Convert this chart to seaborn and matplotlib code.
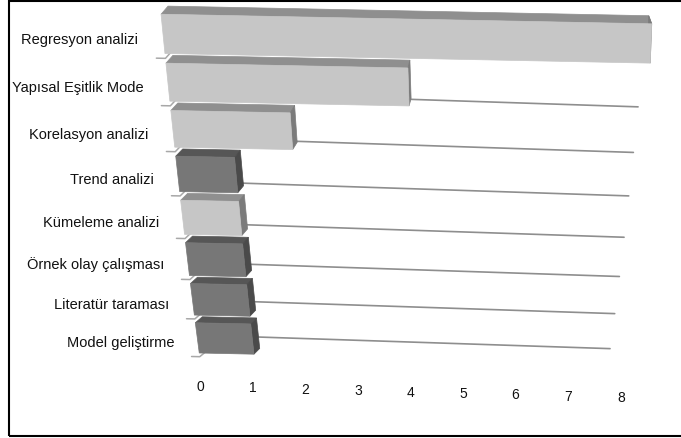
import numpy as np
import pandas as pd
import matplotlib
matplotlib.use("Agg")
import matplotlib.pyplot as plt
from matplotlib import transforms as mtransforms
from matplotlib.patches import Polygon, Rectangle
from matplotlib.lines import Line2D
import seaborn as sns

# ---- data -------------------------------------------------------------
methods = ["Regresyon analizi", "Yapısal Eşitlik Mode", "Korelasyon analizi",
           "Trend analizi", "Kümeleme analizi", "Örnek olay çalışması",
           "Literatür taraması", "Model geliştirme"]
counts = [8, 4, 2, 1, 1, 1, 1, 1]
shades = ["#c6c6c6", "#c6c6c6", "#c6c6c6", "#777777",
          "#c6c6c6", "#777777", "#777777", "#777777"]
ticks = list(range(9))

# ---- figure -----------------------------------------------------------
W, H = 681, 439
sns.set_theme(style="white")
plt.rcParams["font.family"] = ["Liberation Sans", "DejaVu Sans"]
fig = plt.figure(figsize=(W / 100, H / 100), dpi=100)
fig.patch.set_facecolor("white")

# baseline mapping (pixels of the value axis) used as the axes' data space
PX0, PXU = 200.0, 52.6
PY0, PYU = 35.0, 43.43
ax = fig.add_axes([150 / W, 1 - 415 / H, 520 / W, 410 / H])


def to_base(X, Y):
    return (np.asarray(X) - PX0) / PXU, (np.asarray(Y) - PY0) / PYU


# oblique view of the chart box: front plane of the bars, their back plane,
# and the back wall carrying the row lines
def front_px(v, y):
    v = np.asarray(v, float); y = np.asarray(y, float)
    X = 163 + 4.9 * y + v * (61 - 0.85 * y)
    Y = 35 + 49.1 * y - 0.81 * y ** 2 + 1.2 * v
    return X, Y


def back_px(v, y):
    X, Y = front_px(v, y)
    v = np.asarray(v, float); y = np.asarray(y, float)
    return X + 7 - 1.25 * v, Y - (8 - 0.3 * y)


def wall_px(v, y):
    v = np.asarray(v, float); y = np.asarray(y, float)
    X = 170 + 4.9 * y + v * (59.09 - 1.196 * y)
    Y = 47.2 + 48.9 * y - 1.056 * y ** 2 + 0.033 * (X - 250)
    return X, Y


class Projected(mtransforms.Transform):
    input_dims = output_dims = 2
    is_separable = False
    has_inverse = False

    def __init__(self, fn):
        super().__init__()
        self._fn = fn

    def transform_non_affine(self, values):
        values = np.asarray(values, dtype=float)
        X, Y = self._fn(values[:, 0], values[:, 1])
        bx, by = to_base(X, Y)
        return np.column_stack([bx, by])


def base_pts(fn_list):
    pts = [to_base(*p) for p in fn_list]
    return np.array([[float(a), float(b)] for a, b in pts])


df = pd.DataFrame({"method": methods, "count": counts})
sns.barplot(data=df, x="count", y="method", hue="method", palette=shades,
            legend=False, width=0.8, orient="h", saturation=1, ax=ax)

ax.set_xlim((150 - PX0) / PXU, (670 - PX0) / PXU)
ax.set_ylim((415 - PY0) / PYU, (5 - PY0) / PYU)
ax.set_axis_off()

# back-wall lines for each category row
for i in range(len(methods)):
    ln = Line2D([0, ticks[-1]], [i, i], color="#8e8e8e", lw=1.2,
                transform=Projected(wall_px) + ax.transData, zorder=1,
                clip_on=False)
    ax.add_line(ln)

# category tick hooks on the left wall
for i in range(len(methods)):
    b = i + 0.5
    pts = base_pts([front_px(-0.15, b), front_px(0, b), back_px(0, b)])
    ax.add_line(Line2D(pts[:, 0], pts[:, 1], color="#a8a8a8", lw=1.1,
                       zorder=1, clip_on=False))

# 3-D blocks: front face from seaborn, top and side faces added
bars = sorted(ax.patches, key=lambda p: -p.get_y())
for bar in bars:
    x0, w = bar.get_x(), bar.get_width()
    yt, h = bar.get_y(), bar.get_height()
    x1, yb = x0 + w, yt + h
    face = np.array(bar.get_facecolor()[:3])
    bar.set_transform(Projected(front_px) + ax.transData)
    bar.set_edgecolor(face)
    bar.set_linewidth(0.5)
    bar.set_clip_on(False)
    bar.set_zorder(4)
    top = base_pts([front_px(x0, yt), front_px(x1, yt),
                    back_px(x1, yt), back_px(x0, yt)])
    side = base_pts([front_px(x1, yt), front_px(x1, yb),
                     back_px(x1, yb), back_px(x1, yt)])
    ax.add_patch(Polygon(top, closed=True, fc=face * 0.72, ec=face * 0.72,
                         lw=0.5, zorder=3, clip_on=False))
    ax.add_patch(Polygon(side, closed=True, fc=face * 0.62, ec=face * 0.62,
                         lw=0.5, zorder=3, clip_on=False))

# category labels
for i, name in enumerate(methods):
    bx, by = to_base(*front_px(-0.42, i + 0.12))
    ax.text(float(bx), float(by), name, ha="right", va="center",
            fontsize=10.5, color="#111111", clip_on=False)

# value tick labels along the floor edge
for t in ticks:
    ax.text(t, (387 + 1.4 * t - PY0) / PYU, str(t), ha="center", va="center",
            fontsize=10, color="#111111", clip_on=False)

# chart frame (its right edge runs past the canvas)
fig.add_artist(Rectangle((9 / W, 1 - 436.5 / H), 800 / W, 435 / H,
                         transform=fig.transFigure, fill=False,
                         lw=1.5, ec="black", clip_on=False))

fig.savefig("out.png", dpi=100)
